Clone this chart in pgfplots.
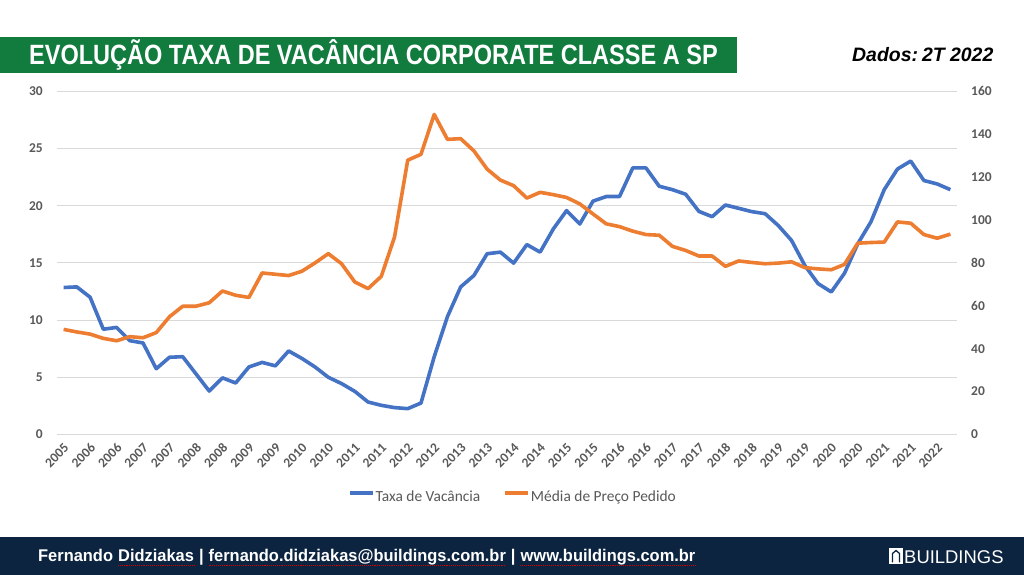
\documentclass[border=0pt]{standalone}
\usepackage{pgfplots}
\pgfplotsset{compat=1.18}
\usepackage{pgfplotstable}
\usepackage{fontspec}
\setmainfont{Carlito}
\newfontfamily\titlefont[FakeStretch=0.843]{Liberation Sans}
\newfontfamily\footfont[FakeStretch=0.97]{Liberation Sans}
\newfontfamily\plainsans{Liberation Sans}
\definecolor{vacblue}{RGB}{68,114,196}
\definecolor{precoorange}{RGB}{237,125,49}
\definecolor{tickgray}{RGB}{89,89,89}
\definecolor{gridgray}{RGB}{217,217,217}
\definecolor{titlegreen}{RGB}{17,124,62}
\definecolor{navy}{RGB}{12,36,64}

\pgfplotstableread{
i vac preco
0 12.85 49.0
1 12.9 47.8
2 12.0 46.8
3 9.2 44.8
4 9.36 43.7
5 8.2 45.6
6 8.0 45.1
7 5.75 47.5
8 6.75 54.9
9 6.8 59.8
10 5.3 59.8
11 3.8 61.4
12 4.95 66.9
13 4.5 64.9
14 5.9 63.9
15 6.3 75.3
16 6.0 74.7
17 7.3 74.1
18 6.65 76.1
19 5.9 80.0
20 5.0 84.3
21 4.45 79.6
22 3.77 71.1
23 2.84 68.0
24 2.55 73.7
25 2.35 92.0
26 2.26 127.9
27 2.75 130.6
28 6.8 149.2
29 10.3 137.6
30 12.9 137.9
31 13.9 132.2
32 15.8 123.7
33 15.94 118.6
34 14.98 116.0
35 16.6 110.2
36 15.94 112.9
37 17.97 111.8
38 19.57 110.5
39 18.4 107.5
40 20.4 102.8
41 20.8 98.2
42 20.8 96.9
43 23.3 94.8
44 23.3 93.2
45 21.7 92.9
46 21.4 87.7
47 21.0 85.8
48 19.5 83.2
49 19.04 83.2
50 20.06 78.4
51 19.77 80.9
52 19.48 80.2
53 19.3 79.6
54 18.26 79.9
55 16.96 80.5
56 14.78 77.8
57 13.19 77.2
58 12.46 76.8
59 14.1 79.3
60 16.67 89.2
61 18.6 89.5
62 21.4 89.7
63 23.2 99.1
64 23.9 98.5
65 22.2 93.2
66 21.9 91.5
67 21.4 93.4
}\datatable

\begin{document}
\begin{tikzpicture}
\begin{scope}[x=1bp,y=1bp]
\fill[white] (0,0) rectangle (1024,575);
% title bar
\fill[titlegreen] (0,502) rectangle (737,538);
\node[anchor=base west, inner sep=0, text=white, font=\titlefont\bfseries\fontsize{28}{30}\selectfont] at (29,510) {EVOLUÇÃO TAXA DE VACÂNCIA CORPORATE CLASSE A SP};
\node[anchor=base west, inner sep=0, text=black, font=\plainsans\bfseries\itshape\fontsize{19.5}{21}\selectfont] at (852,513) {Dados:\kern4bp 2T 2022};
% footer
\fill[navy] (0,0) rectangle (1024,38);
\node[anchor=base west, inner sep=0, text=white, font=\footfont\bfseries\fontsize{17}{19}\selectfont] (f1) at (38,13) {Fernando};
\node[anchor=base west, inner sep=0, text=white, font=\footfont\bfseries\fontsize{17}{19}\selectfont] (f2) at ([xshift=4.7bp]f1.base east) {Didziakas};
\node[anchor=base west, inner sep=0, text=white, font=\footfont\bfseries\fontsize{17}{19}\selectfont] (f3) at ([xshift=4.7bp]f2.base east) {|};
\node[anchor=base west, inner sep=0, text=white, font=\footfont\bfseries\fontsize{17}{19}\selectfont] (f4) at ([xshift=4.7bp]f3.base east) {fernando.didziakas@buildings.com.br};
\node[anchor=base west, inner sep=0, text=white, font=\footfont\bfseries\fontsize{17}{19}\selectfont] (f5) at ([xshift=4.7bp]f4.base east) {|};
\node[anchor=base west, inner sep=0, text=white, font=\footfont\bfseries\fontsize{17}{19}\selectfont] (f6) at ([xshift=4.7bp]f5.base east) {www.buildings.com.br};
\foreach \n in {f2,f4,f6}{
  \draw[red!85!black, densely dotted, line width=0.9bp] ([yshift=-3.5bp]\n.base west) -- ([yshift=-3.5bp]\n.base east);
}
% logo
\fill[white] (889,11) rectangle (903,27);
\draw[navy, line width=1.3bp] (892.5,12.5) -- (892.5,21.5) -- (896,24.5) -- (899.5,21.5) -- (899.5,12.5);
\node[anchor=base west, inner sep=0, text=white, font=\plainsans\fontsize{18.5}{20}\selectfont] at (904,11) {BUILDINGS};
\end{scope}

\begin{axis}[
  at={(57bp,140.5bp)}, anchor=south west, scale only axis,
  width=900bp, height=343.2bp,
  xmin=-0.5, xmax=67.5, ymin=0, ymax=30,
  ytick={0,5,...,30},
  xtick={0,2,...,66},
  xticklabels={2005,2006,2006,2007,2007,2008,2008,2009,2009,2010,2010,2011,2011,2012,2012,2013,2013,2014,2014,2015,2015,2016,2016,2017,2017,2018,2018,2019,2019,2020,2020,2021,2021,2022},
  axis line style={draw=none},
  major tick length=0pt,
  ymajorgrids, grid style={draw=gridgray, line width=0.8bp},
  /pgf/number format/assume math mode=true,
  tick label style={font=\bfseries\fontsize{13.5}{14}\selectfont, text=tickgray},
  yticklabel style={anchor=east, inner sep=0pt, xshift=-14bp},
  xticklabel style={xshift=3bp, yshift=-11bp, rotate=45, anchor=east, inner sep=0pt},
]
\addplot[vacblue, line width=3.6bp, line join=round] table[x=i, y=vac] {\datatable};
\end{axis}

\begin{axis}[
  at={(57bp,140.5bp)}, anchor=south west, scale only axis,
  width=900bp, height=343.2bp,
  xmin=-0.5, xmax=67.5, ymin=0, ymax=160,
  ytick={0,20,...,160},
  axis y line*=right, hide x axis,
  axis line style={draw=none},
  major tick length=0pt,
  /pgf/number format/assume math mode=true,
  tick label style={font=\bfseries\fontsize{13.5}{14}\selectfont, text=tickgray},
  yticklabel style={anchor=west, inner sep=0pt, xshift=14bp},
  legend style={at={(0.506,-0.182)}, anchor=center, draw=none, fill=none,
    font=\fontsize{15.5}{17}\selectfont, text=tickgray,
    /tikz/every even column/.append style={column sep=22bp},
    nodes={inner sep=1bp}},
  legend columns=2,
  legend image code/.code={\draw[#1, line width=3.6bp] (0bp,4bp) -- (23bp,4bp);},
]
\addlegendimage{vacblue, line width=3.6bp}
\addlegendentry{Taxa de Vacância}
\addplot[precoorange, line width=3.6bp, line join=round] table[x=i, y=preco] {\datatable};
\addlegendentry{Média de Preço Pedido}
\end{axis}
\end{tikzpicture}
\end{document}
